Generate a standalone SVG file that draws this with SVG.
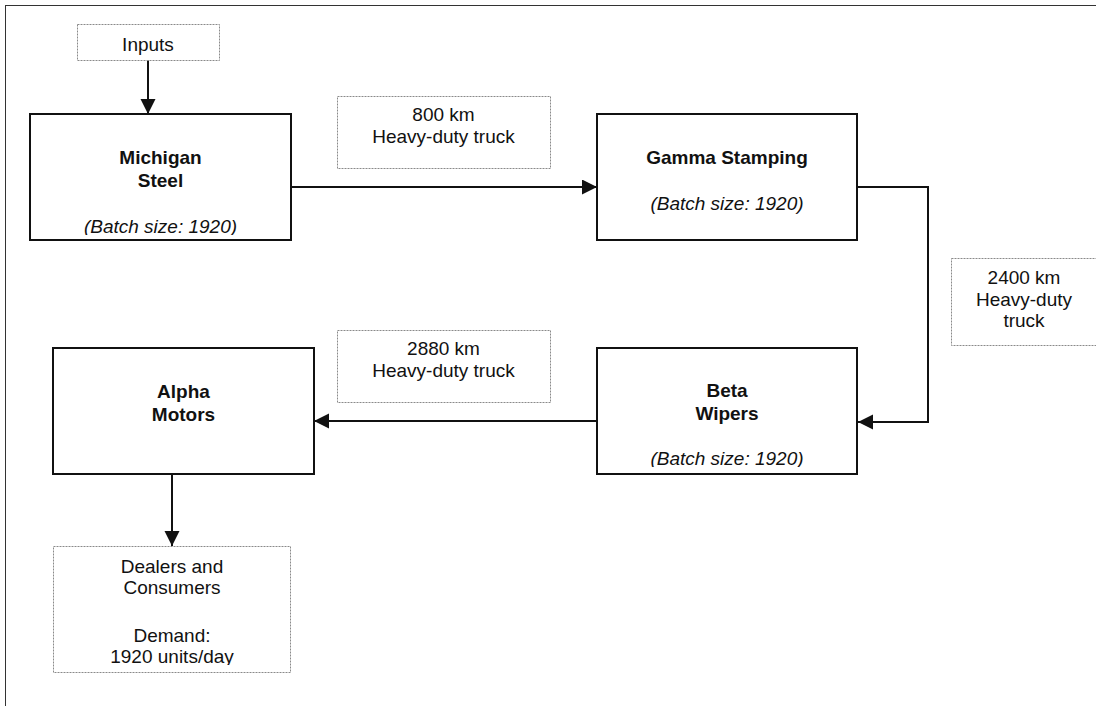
<svg xmlns="http://www.w3.org/2000/svg" width="1096" height="706" viewBox="0 0 1096 706">
  <style>
    .box { fill: #ffffff; stroke: #111111; stroke-width: 2; }
    .lbl { fill: #ffffff; stroke: #8a8a8a; stroke-width: 1; stroke-dasharray: 2 1; }
    .t { font-family: "Liberation Sans", Arial, sans-serif; font-size: 19px; fill: #111111; text-anchor: middle; }
    .b { font-weight: bold; }
    .i { font-style: italic; }
    .edge { fill: none; stroke: #111111; stroke-width: 2; }
  </style>
  <defs>
    <marker id="arr" markerUnits="userSpaceOnUse" markerWidth="16" markerHeight="16" refX="15" refY="7.5" orient="auto">
      <path d="M0,0 L15,7.5 L0,15 z" fill="#111111"/>
    </marker>
    <clipPath id="cMich"><rect x="30" y="114" width="261" height="121"/></clipPath>
    <clipPath id="cBeta"><rect x="597" y="348" width="260" height="119"/></clipPath>
    <clipPath id="cDeal"><rect x="53" y="546" width="237" height="119"/></clipPath>
  </defs>
  <rect x="5.5" y="5.5" width="1200" height="800" fill="#ffffff" stroke="#333333" stroke-width="1"/>

  <g id="connectors">
    <line class="edge" x1="148" y1="60" x2="148" y2="114" marker-end="url(#arr)"/>
    <line class="edge" x1="291" y1="187" x2="597" y2="187" marker-end="url(#arr)"/>
    <polyline class="edge" points="857,187 928,187 928,422 858,422" marker-end="url(#arr)"/>
    <line class="edge" x1="597" y1="421" x2="314" y2="421" marker-end="url(#arr)"/>
    <line class="edge" x1="172" y1="474" x2="172" y2="546" marker-end="url(#arr)"/>
  </g>

  <g id="inputs">
    <rect class="lbl" x="77.5" y="24.5" width="142" height="36"/>
    <text class="t" x="148" y="51">Inputs</text>
  </g>

  <g id="michigan-steel">
    <rect class="box" x="30" y="114" width="261" height="126"/>
    <g clip-path="url(#cMich)">
      <text class="t b" x="160.5" y="164">Michigan</text>
      <text class="t b" x="160.5" y="187">Steel</text>
      <text class="t i" x="160.5" y="233">(Batch size: 1920)</text>
    </g>
  </g>

  <g id="label-800">
    <rect class="lbl" x="337.5" y="96.5" width="213" height="72"/>
    <text class="t" x="443.5" y="121">800 km</text>
    <text class="t" x="443.5" y="143">Heavy-duty truck</text>
  </g>

  <g id="gamma-stamping">
    <rect class="box" x="597" y="114" width="260" height="126"/>
    <text class="t b" x="727" y="164">Gamma Stamping</text>
    <text class="t i" x="727" y="210">(Batch size: 1920)</text>
  </g>

  <g id="label-2400">
    <rect class="lbl" x="951.5" y="258.5" width="146" height="87"/>
    <text class="t" x="1024" y="284">2400 km</text>
    <text class="t" x="1024" y="306">Heavy-duty</text>
    <text class="t" x="1024" y="327">truck</text>
  </g>

  <g id="label-2880">
    <rect class="lbl" x="337.5" y="330.5" width="213" height="72"/>
    <text class="t" x="443.5" y="355">2880 km</text>
    <text class="t" x="443.5" y="377">Heavy-duty truck</text>
  </g>

  <g id="beta-wipers">
    <rect class="box" x="597" y="348" width="260" height="126"/>
    <g clip-path="url(#cBeta)">
      <text class="t b" x="727" y="397">Beta</text>
      <text class="t b" x="727" y="420">Wipers</text>
      <text class="t i" x="727" y="465">(Batch size: 1920)</text>
    </g>
  </g>

  <g id="alpha-motors">
    <rect class="box" x="53" y="348" width="261" height="126"/>
    <text class="t b" x="183.5" y="398">Alpha</text>
    <text class="t b" x="183.5" y="421">Motors</text>
  </g>

  <g id="dealers-consumers">
    <rect class="lbl" x="53.5" y="546.5" width="237" height="126"/>
    <g clip-path="url(#cDeal)">
      <text class="t" x="172" y="573">Dealers and</text>
      <text class="t" x="172" y="594">Consumers</text>
      <text class="t" x="172" y="642">Demand:</text>
      <text class="t" x="172" y="663">1920 units/day</text>
    </g>
  </g>
</svg>
